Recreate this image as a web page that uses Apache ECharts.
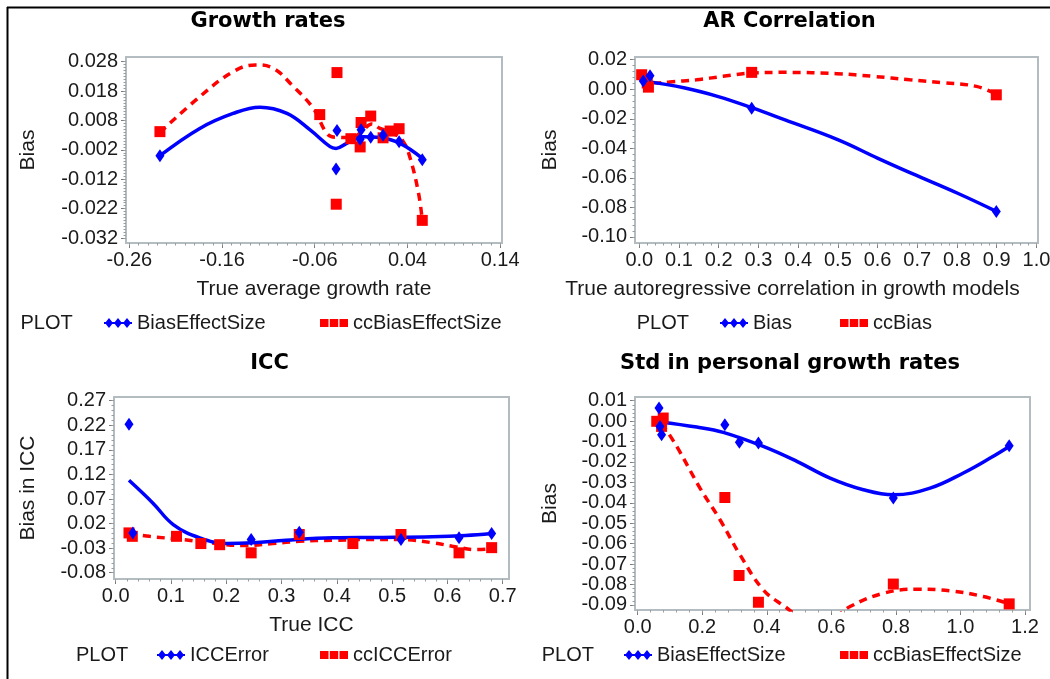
<!DOCTYPE html>
<html>
<head>
<meta charset="utf-8">
<script src="https://cdn.jsdelivr.net/npm/echarts@6/dist/echarts.min.js"></script>
<style>
html,body{margin:0;padding:0;background:#fff;}
#chart{width:1050px;height:679px;}
</style>
</head>
<body>
<div id="chart"></div>
<script>
// ---------------- DATA ----------------
// Panel 1: Growth rates
const growthBiasPoints = [[-0.227,-0.004],[-0.036,0.0046],[-0.037,-0.0085],[-0.011,0.0016],[-0.010,0.0048],[0.0004,0.0023],[0.0137,0.003],[0.031,0.0008],[0.056,-0.0054]];
const growthBiasCurve = [[-0.227,-0.004],[-0.184,0.0053],[-0.148,0.0104],[-0.119,0.0125],[-0.090,0.0104],[-0.065,0.0048],[-0.0435,-0.0009],[-0.037,-0.0015],[-0.0255,0.0002],[-0.0076,0.0025],[0.0104,0.0022],[0.032,0.0002],[0.056,-0.0049]];
const growthCcPoints = [[-0.227,0.0042],[-0.0546,0.0100],[-0.036,0.0243],[-0.0368,-0.0205],[-0.021,0.0018],[-0.010,0.0073],[-0.011,-0.001],[0.0004,0.0095],[0.0137,0.0021],[0.0213,0.0044],[0.031,0.0052],[0.056,-0.026]];
const growthCcCurve = [[-0.227,0.0039],[-0.184,0.0161],[-0.148,0.0246],[-0.124,0.0269],[-0.105,0.0258],[-0.083,0.0195],[-0.0615,0.0121],[-0.047,0.0036],[-0.038,0.0023],[-0.020,0.0022],[-0.0076,0.0048],[0.0014,0.0068],[0.0104,0.0053],[0.025,0.0036],[0.0356,0.0008],[0.043,-0.0049],[0.052,-0.0168],[0.056,-0.026]];
const growthXTicks = [-0.26,-0.16,-0.06,0.04,0.14];
const growthYTicks = [0.028,0.018,0.008,-0.002,-0.012,-0.022,-0.032];

// Panel 2: AR Correlation
const arBiasPoints = [[0.010,0.0055],[0.027,0.0091],[0.283,-0.0129],[0.899,-0.0827]];
const arBiasCurve = [[0.007,0.0058],[0.115,0.0008],[0.199,-0.005],[0.283,-0.0125],[0.367,-0.0208],[0.501,-0.0343],[0.601,-0.0468],[0.686,-0.057],[0.803,-0.0706],[0.899,-0.0827]];
const arCcPoints = [[0.006,0.0098],[0.023,0.0014],[0.020,0.0042],[0.283,0.0114],[0.899,-0.0038]];
const arCcCurve = [[0.005,0.0095],[0.044,0.0042],[0.077,0.0049],[0.144,0.0064],[0.211,0.0087],[0.283,0.0109],[0.371,0.0114],[0.497,0.0105],[0.589,0.0087],[0.681,0.0064],[0.765,0.0044],[0.849,0.0019],[0.899,-0.0034]];
const arXTicks = [0.0,0.1,0.2,0.3,0.4,0.5,0.6,0.7,0.8,0.9,1.0];
const arYTicks = [0.02,0.00,-0.02,-0.04,-0.06,-0.08,-0.10];

// Panel 3: ICC
const iccErrPoints = [[0.024,0.222],[0.031,0.001],[0.245,-0.0126],[0.332,0.0023],[0.516,-0.0126],[0.621,-0.009],[0.680,0.0]];
const iccErrCurve = [[0.024,0.108],[0.067,0.062],[0.104,0.018],[0.152,-0.009],[0.200,-0.0205],[0.248,-0.019],[0.308,-0.0138],[0.393,-0.009],[0.483,-0.0083],[0.573,-0.0069],[0.633,-0.0042],[0.680,-0.0002]];
const iccCcPoints = [[0.024,0.001],[0.030,-0.006],[0.110,-0.006],[0.154,-0.0207],[0.188,-0.023],[0.245,-0.0396],[0.332,-0.0023],[0.429,-0.0207],[0.516,-0.0023],[0.621,-0.0396],[0.680,-0.029]];
const iccCcCurve = [[0.024,0.0],[0.061,-0.006],[0.121,-0.0126],[0.182,-0.0207],[0.230,-0.0248],[0.284,-0.0207],[0.332,-0.016],[0.393,-0.014],[0.453,-0.0126],[0.513,-0.0126],[0.573,-0.019],[0.609,-0.026],[0.652,-0.033],[0.680,-0.031]];
const iccXTicks = [0.0,0.1,0.2,0.3,0.4,0.5,0.6,0.7];
const iccYTicks = [0.27,0.22,0.17,0.12,0.07,0.02,-0.03,-0.08];

// Panel 4: Std in personal growth rates
const stdBiasPoints = [[0.066,0.0064],[0.069,-0.0026],[0.074,-0.0067],[0.270,-0.0018],[0.315,-0.0104],[0.374,-0.0107],[0.792,-0.0377],[1.151,-0.0121]];
const stdBiasCurve = [[0.069,-0.0004],[0.183,-0.0029],[0.265,-0.0055],[0.389,-0.0124],[0.493,-0.0197],[0.596,-0.0279],[0.699,-0.0336],[0.792,-0.0361],[0.906,-0.0328],[1.009,-0.0254],[1.092,-0.0181],[1.151,-0.0124]];
const stdCcPoints = [[0.059,-0.0001],[0.079,0.0015],[0.074,-0.0026],[0.270,-0.0374],[0.314,-0.0756],[0.374,-0.0887],[0.792,-0.0798],[1.151,-0.0895]];
const stdCcCurve = [[0.074,-0.001],[0.121,-0.0124],[0.193,-0.0328],[0.255,-0.0483],[0.317,-0.0655],[0.389,-0.0826],[0.456,-0.0908],[0.520,-0.0975],[0.580,-0.0985],[0.658,-0.0908],[0.761,-0.0843],[0.864,-0.0823],[0.968,-0.0831],[1.071,-0.0859],[1.151,-0.0895]];
const stdXTicks = [0.0,0.2,0.4,0.6,0.8,1.0,1.2];
const stdYTicks = [0.01,0.00,-0.01,-0.02,-0.03,-0.04,-0.05,-0.06,-0.07,-0.08,-0.09];

// ---------------- STYLE ----------------
const FONT = '"Liberation Sans", Arial, sans-serif';
const TITLE_FONT = 'bold 21px "DejaVu Sans", Verdana, sans-serif';
const TXT = '#1a1a1a';
const BLUE = '#0000ff';
const RED = '#ff0000';
const BLUE_ICON = 'path://M0,4 L28,4 L28,6 L0,6 Z M5,0 L9,5 L5,10 L1,5 Z M14,0 L18,5 L14,10 L10,5 Z M23,0 L27,5 L23,10 L19,5 Z';
const RED_ICON = 'path://M0,0 L8.5,0 L8.5,8 L0,8 Z M9.8,0 L18.2,0 L18.2,8 L9.8,8 Z M19.5,0 L28,0 L28,8 L19.5,8 Z';

function steps(a, b, step) {
  const n = Math.round((b - a) / step);
  const out = [];
  for (let k = 0; k <= n; k++) out.push(+(a + k * step).toFixed(6));
  return out;
}

const panels = [
  { grid: {left:126, top:57, width:376, height:186},
    x: {min:-0.2636, max:0.1420, ticks:growthXTicks, dec:2, minor:0.01, name:'True average growth rate', gap:36},
    y: {min:-0.0337, max:0.0296, ticks:growthYTicks, dec:3, minor:0.001, name:'Bias', gap:87},
    blue: {name:'BiasEffectSize', pts:growthBiasPoints, curve:growthBiasCurve},
    red: {name:'ccBiasEffectSize', pts:growthCcPoints, curve:growthCcCurve},
    title: {text:'Growth rates', x:268, y:22},
    legend: {plotX:20.5, blueX:104, redX:320, y:323} },
  { grid: {left:635, top:57, width:403, height:186},
    x: {min:-0.0108, max:1.004, ticks:arXTicks, dec:1, minor:0.02, name:'True autoregressive correlation in growth models', gap:36, padRight:88},
    y: {min:-0.1041, max:0.0218, ticks:arYTicks, dec:2, minor:0.004, name:'Bias', gap:74},
    blue: {name:'Bias', pts:arBiasPoints, curve:arBiasCurve},
    red: {name:'ccBias', pts:arCcPoints, curve:arCcCurve},
    title: {text:'AR Correlation', x:789.5, y:22},
    legend: {plotX:636.7, blueX:720, redX:840, y:323} },
  { grid: {left:114, top:397, width:395, height:182},
    x: {min:-0.0031, max:0.7114, ticks:iccXTicks, dec:1, minor:0.02, name:'True ICC', gap:36},
    y: {min:-0.0928, max:0.2775, ticks:iccYTicks, dec:2, minor:0.01, name:'Bias in ICC', gap:75},
    blue: {name:'ICCError', pts:iccErrPoints, curve:iccErrCurve},
    red: {name:'ccICCError', pts:iccCcPoints, curve:iccCcCurve},
    title: {text:'ICC', x:269.5, y:363.5},
    legend: {plotX:76, blueX:157, redX:320, y:655} },
  { grid: {left:635, top:397, width:395, height:213},
    x: {min:-0.0084, max:1.2155, ticks:stdXTicks, dec:1, minor:0.04, name:'', gap:36},
    y: {min:-0.0925, max:0.0118, ticks:stdYTicks, dec:2, minor:0.002, name:'Bias', gap:74},
    blue: {name:'BiasEffectSize', pts:stdBiasPoints, curve:stdBiasCurve},
    red: {name:'ccBiasEffectSize', pts:stdCcPoints, curve:stdCcCurve},
    title: {text:'Std in personal growth rates', x:790, y:364},
    legend: {plotX:541.7, blueX:624, redX:840, y:655} }
];

const grids = [], xAxes = [], yAxes = [], series = [], legends = [], graphics = [];

// outer frame (top and left edges)
graphics.push({type:'line', shape:{x1:7, y1:7.5, x2:1050, y2:7.5}, style:{stroke:'#000', lineWidth:2}, silent:true});
graphics.push({type:'line', shape:{x1:7.5, y1:7, x2:7.5, y2:679}, style:{stroke:'#000', lineWidth:2}, silent:true});

function majorAxis(gi, ax, pos) {
  const o = {
    type:'value', gridIndex:gi, position:pos, min:ax.min, max:ax.max,
    axisLine:{show:false, onZero:false}, splitLine:{show:false},
    axisTick:{show:true, customValues:ax.ticks, length:5, lineStyle:{color:'#7a7a7a', width:1}},
    axisLabel:{customValues:ax.ticks, formatter:(v)=>Number(v).toFixed(ax.dec), fontSize:20, fontFamily:FONT, color:TXT, margin:pos==='left'?8:7},
    name:ax.name, nameLocation:'middle', nameGap:ax.gap,
    nameTextStyle:{fontSize:21, fontFamily:FONT, color:TXT}
  };
  if (ax.padRight) o.nameTextStyle.padding = [0, ax.padRight, 0, 0];
  return o;
}
function minorAxis(gi, ax, pos) {
  const lo = Math.min(...ax.ticks), hi = Math.max(...ax.ticks);
  return {
    type:'value', gridIndex:gi, position:pos, min:ax.min, max:ax.max,
    axisLine:{show:false, onZero:false}, splitLine:{show:false}, axisLabel:{show:false},
    axisTick:{show:true, customValues:steps(lo, hi, ax.minor), length:2.5, lineStyle:{color:'#9c9c9c', width:1}}
  };
}

panels.forEach((p, gi) => {
  grids.push(Object.assign({show:true, borderColor:'#b3bcc0', borderWidth:2, backgroundColor:'#fff', outerBoundsMode:'none', containLabel:false}, p.grid));
  xAxes.push(majorAxis(gi, p.x, 'bottom'));
  xAxes.push(minorAxis(gi, p.x, 'bottom'));
  yAxes.push(majorAxis(gi, p.y, 'left'));
  yAxes.push(minorAxis(gi, p.y, 'left'));
  const xi = gi * 2, yi = gi * 2;
  series.push({type:'scatter', name:p.blue.name, xAxisIndex:xi, yAxisIndex:yi, data:p.blue.pts, symbol:'diamond', symbolSize:[9,13], itemStyle:{color:BLUE, opacity:1}, z:4});
  series.push({type:'scatter', name:p.red.name, xAxisIndex:xi, yAxisIndex:yi, data:p.red.pts, symbol:'rect', symbolSize:11, itemStyle:{color:RED, opacity:1}, z:3});
  series.push({type:'line', name:p.red.name, xAxisIndex:xi, yAxisIndex:yi, data:p.red.curve, smooth:0.4, showSymbol:false, symbol:'none', lineStyle:{color:RED, width:3.5, type:[8,6]}, itemStyle:{color:RED}, z:2});
  series.push({type:'line', name:p.blue.name, xAxisIndex:xi, yAxisIndex:yi, data:p.blue.curve, smooth:0.4, showSymbol:false, symbol:'none', lineStyle:{color:BLUE, width:3.5}, itemStyle:{color:BLUE}, z:3});

  const lg = p.legend;
  legends.push({left:lg.blueX, top:lg.y - 11, padding:0, itemWidth:28, itemHeight:10, selectedMode:false,
    data:[{name:p.blue.name, icon:BLUE_ICON, itemStyle:{color:BLUE, opacity:1}}],
    textStyle:{fontSize:20, fontFamily:FONT, color:TXT, lineHeight:22}});
  legends.push({left:lg.redX, top:lg.y - 11, padding:0, itemWidth:28, itemHeight:8, selectedMode:false,
    data:[{name:p.red.name, icon:RED_ICON, itemStyle:{color:RED, opacity:1}}],
    textStyle:{fontSize:20, fontFamily:FONT, color:TXT, lineHeight:22}});
  graphics.push({type:'text', x:lg.plotX, y:lg.y, silent:true,
    style:{text:'PLOT', font:'20px ' + FONT, fill:TXT, align:'left', verticalAlign:'middle'}});
  graphics.push({type:'text', x:p.title.x, y:p.title.y, silent:true,
    style:{text:p.title.text, font:TITLE_FONT, fill:'#000', align:'center', verticalAlign:'middle'}});
});

const chart = echarts.init(document.getElementById('chart'), null, {renderer:'canvas'});
chart.setOption({
  animation:false,
  backgroundColor:'#fff',
  grid:grids, xAxis:xAxes, yAxis:yAxes, series:series, legend:legends,
  graphic:graphics
});
</script>
</body>
</html>
